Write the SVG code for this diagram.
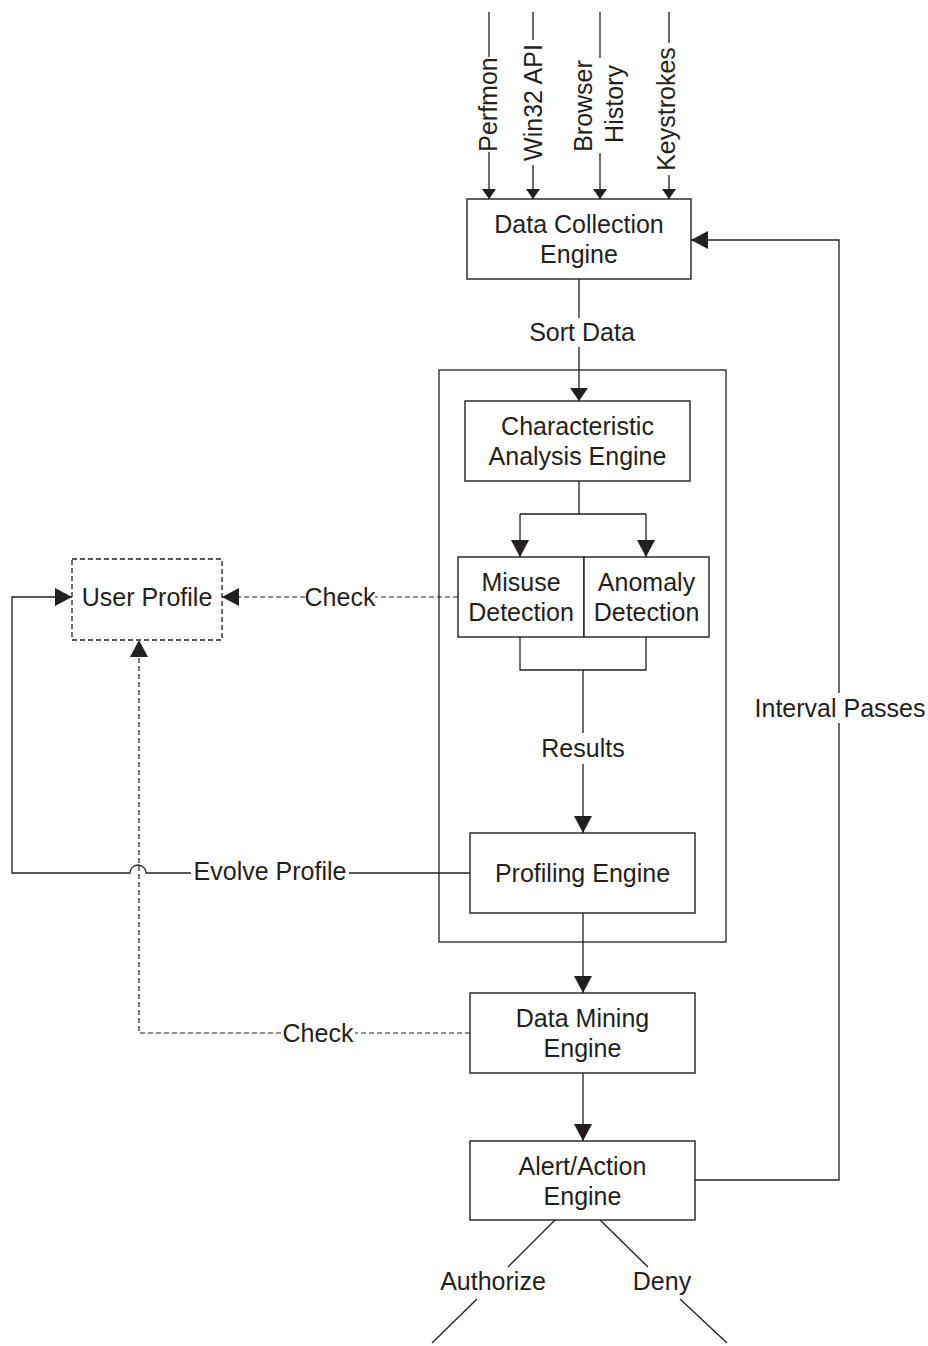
<svg xmlns="http://www.w3.org/2000/svg" width="928" height="1346" viewBox="0 0 928 1346">
<style>
.t{font-family:"Liberation Sans",Arial,Helvetica,sans-serif;font-size:25px;fill:#231f20;text-anchor:middle}
.box{fill:#fff;stroke:#231f20;stroke-width:1.4}
.dbox{fill:#fff;stroke:#231f20;stroke-width:1.3;stroke-dasharray:5,3}
.ln{fill:none;stroke:#231f20;stroke-width:1.3}
.dl{fill:none;stroke:#231f20;stroke-width:1.2;stroke-dasharray:5,3}
</style>
<defs>
<marker id="arr" viewBox="0 0 17 18" refX="17" refY="9" markerWidth="17" markerHeight="18" markerUnits="userSpaceOnUse" orient="auto"><path d="M0,0 L17,9 L0,18 z" fill="#231f20"/></marker>
<marker id="arrm" viewBox="0 0 13 18" refX="13" refY="9" markerWidth="13" markerHeight="18" markerUnits="userSpaceOnUse" orient="auto"><path d="M0,0 L13,9 L0,18 z" fill="#231f20"/></marker>
<marker id="arrs" viewBox="0 0 10 14" refX="10" refY="7" markerWidth="10" markerHeight="14" markerUnits="userSpaceOnUse" orient="auto"><path d="M0,0 L10,7 L0,14 z" fill="#231f20"/></marker>
</defs>
<rect width="928" height="1346" fill="#fff"/>
<g id="container"><rect x="439" y="370" width="287" height="572" fill="none" stroke="#231f20" stroke-width="1.3"/></g>
<g id="connectors">
<path class="ln" d="M489,12 V57 M489,152 V199" marker-end="url(#arrs)"/>
<path class="ln" d="M533,12 V40 M533,165 V199" marker-end="url(#arrs)"/>
<path class="ln" d="M600,12 V58 M600,153 V199" marker-end="url(#arrs)"/>
<path class="ln" d="M669,12 V43 M669,175 V199" marker-end="url(#arrs)"/>
<path class="ln" d="M579,279 V318 M579,347 V401" marker-end="url(#arrm)"/>
<path class="ln" d="M579,481 V514 M520,514 H646"/>
<path class="ln" d="M520,514 V557" marker-end="url(#arr)"/>
<path class="ln" d="M646,514 V557" marker-end="url(#arr)"/>
<path class="ln" d="M520,637 V670 H646 V637"/>
<path class="ln" d="M583,670 V733 M583,764 V833" marker-end="url(#arr)"/>
<path class="ln" d="M583,913 V993" marker-end="url(#arr)"/>
<path class="ln" d="M583,1073 V1141" marker-end="url(#arr)"/>
<path class="ln" d="M695,1180 H839 V723 M839,693 V240 H691" marker-end="url(#arr)"/>
<path class="dl" d="M458,597 H375 M305,597 H222" marker-end="url(#arr)"/>
<path class="ln" d="M470,873 H349 M191,873 H146 A8,8 0 0 0 130,873 H12 V597 H72" marker-end="url(#arr)"/>
<path class="dl" d="M470,1033 H355 M281,1033 H139 V640" marker-end="url(#arr)"/>
<path class="ln" d="M555,1220 L508,1267 M477,1299 L432,1343 M600,1220 L648,1267 M680,1299 L727,1343"/>
</g>
<g id="labels">
<text class="t" x="497" y="104.5" transform="rotate(-90 497 104.5)">Perfmon</text>
<text class="t" x="542" y="102.5" transform="rotate(-90 542 102.5)">Win32 API</text>
<text class="t" x="592" y="106" transform="rotate(-90 592 106)">Browser</text>
<text class="t" x="623" y="104" transform="rotate(-90 623 104)">History</text>
<text class="t" x="675" y="109" transform="rotate(-90 675 109)">Keystrokes</text>
<text class="t" x="582" y="341">Sort Data</text>
<text class="t" x="583" y="757">Results</text>
<text class="t" x="840" y="717">Interval Passes</text>
<text class="t" x="340" y="606">Check</text>
<text class="t" x="270" y="880">Evolve Profile</text>
<text class="t" x="318" y="1042">Check</text>
<text class="t" x="493" y="1290">Authorize</text>
<text class="t" x="662" y="1290">Deny</text>
</g>
<g id="dce"><rect class="box" x="467" y="199" width="224" height="80"/><text class="t" x="579" y="233">Data Collection</text><text class="t" x="579" y="263">Engine</text></g>
<g id="cae"><rect class="box" x="465" y="401" width="225" height="80"/><text class="t" x="577.5" y="435">Characteristic</text><text class="t" x="577.5" y="465">Analysis Engine</text></g>
<g id="misuse"><rect class="box" x="458" y="557" width="126" height="80"/><text class="t" x="521" y="591">Misuse</text><text class="t" x="521" y="621">Detection</text></g>
<g id="anomaly"><rect class="box" x="584" y="557" width="125" height="80"/><text class="t" x="646.5" y="591">Anomaly</text><text class="t" x="646.5" y="621">Detection</text></g>
<g id="profiling"><rect class="box" x="470" y="833" width="225" height="80"/><text class="t" x="582.5" y="882">Profiling Engine</text></g>
<g id="datamining"><rect class="box" x="470" y="993" width="225" height="80"/><text class="t" x="582.5" y="1027">Data Mining</text><text class="t" x="582.5" y="1057">Engine</text></g>
<g id="alert"><rect class="box" x="470" y="1141" width="225" height="79"/><text class="t" x="582.5" y="1174.5">Alert/Action</text><text class="t" x="582.5" y="1204.5">Engine</text></g>
<g id="userprofile"><rect class="dbox" x="72" y="559" width="150" height="81"/><text class="t" x="147" y="606">User Profile</text></g>
</svg>
